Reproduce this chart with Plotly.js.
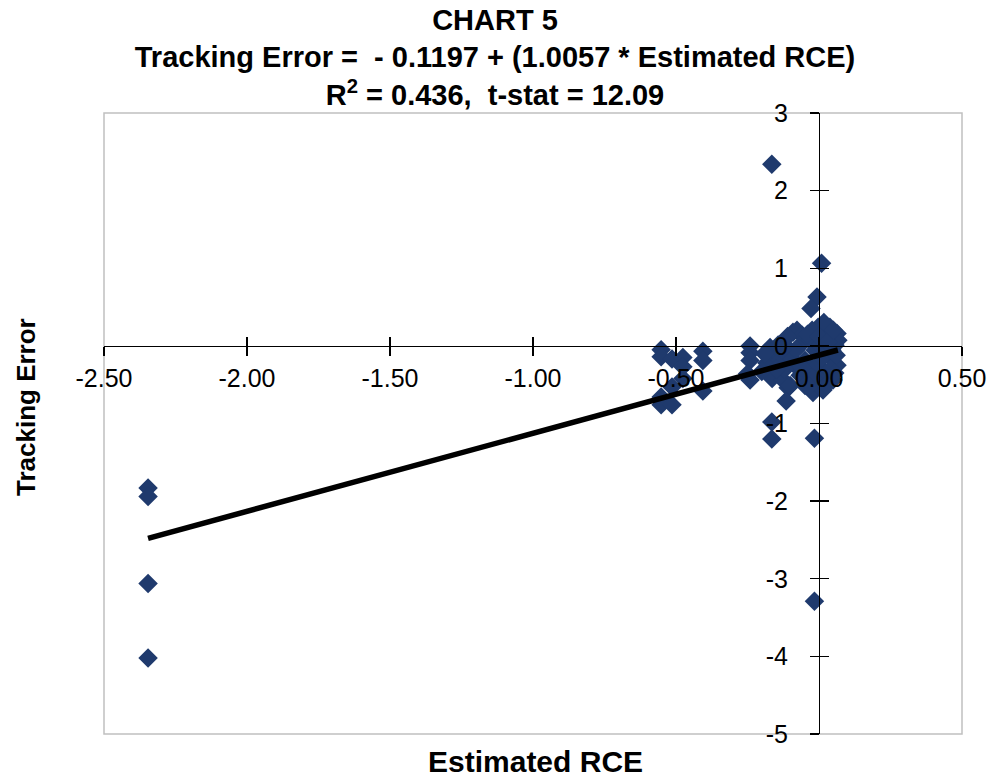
<!DOCTYPE html>
<html>
<head>
<meta charset="utf-8">
<script src="https://cdn.plot.ly/plotly-3.0.1.min.js"></script>
<style>html,body{margin:0;padding:0;background:#fff;}#chart{width:990px;height:781px;}</style>
</head>
<body>
<div id="chart"></div>
<script>
// Estimated RCE (x) and Tracking Error (y)
const estRCE = [
  -2.346, -2.346, -2.346, -2.346,
  -0.552, -0.552, -0.552, -0.552, -0.514, -0.514, -0.514, -0.476, -0.476, -0.476,
  -0.406, -0.406, -0.406,
  -0.241, -0.241, -0.241, -0.250, -0.241,
  -0.171, -0.161, -0.182, -0.164, -0.126, -0.108, -0.115, -0.091, -0.077, -0.059,
  -0.003, 0.038, 0.063, -0.021, 0.014, 0.049, 0.063, -0.101, -0.143,
  -0.136, -0.101, -0.066, -0.049, -0.031, -0.014, 0.003, 0.021, 0.031, 0.056,
  -0.038, -0.003, 0.021, -0.066, -0.084, -0.024, 0.017, 0.045, 0.066, 0.003, -0.049,
  -0.120, -0.100, -0.080, -0.060, -0.040, -0.020, 0.000, 0.010, 0.030, 0.040,
  0.050, 0.060, -0.130, -0.150, -0.110, 0.025, -0.035, 0.055, -0.190, -0.200,
  -0.016, -0.016, -0.165, -0.165,
  -0.165, 0.009, -0.007, -0.028
];
const trackingError = [
  -1.83, -1.94, -3.06, -4.02,
  -0.05, -0.14, -0.66, -0.76, -0.17, -0.53, -0.76, -0.15, -0.27, -0.42,
  -0.07, -0.19, -0.58,
  0.00, -0.09, -0.19, -0.36, -0.44,
  -0.02, -0.146, -0.22, -0.42, -0.44, -0.54, -0.71, 0.175, 0.20, 0.136,
  0.24, 0.24, 0.16, -0.60, -0.57, -0.44, -0.25, -0.51, 0.01,
  -0.185, -0.056, 0.008, -0.185, 0.072, -0.056, 0.008, 0.136, -0.12, 0.008,
  -0.34, -0.25, -0.34, -0.38, -0.25, 0.20, 0.30, -0.056, 0.072, -0.44, -0.51,
  -0.30, -0.15, -0.05, -0.28, 0.15, -0.42, 0.12, -0.15, 0.05, -0.30,
  0.20, -0.12, -0.05, -0.30, 0.12, -0.50, -0.52, -0.35, -0.10, -0.33,
  -1.19, -3.29, -0.98, -1.20,
  2.34, 1.064, 0.63, 0.48
];
// Regression from the chart title
const intercept = -0.1197;
const slope = 1.0057;
const xTicks = [-2.5, -2.0, -1.5, -1.0, -0.5, 0.0, 0.5];
const yTicks = [-5, -4, -3, -2, -1, 0, 1, 2, 3];
const xTickText = xTicks.map(v => v.toFixed(2));
const yTickText = yTicks.map(v => String(v));

const xMin = Math.min(...estRCE), xMax = Math.max(...estRCE);
const fitX = [xMin, xMax];
const fitY = fitX.map(v => intercept + slope * v);

const FONT = 'Liberation Sans, Arial, sans-serif';
const navy = '#1f3a6d';

const traces = [
  {type: 'scatter', mode: 'markers', x: estRCE, y: trackingError,
   marker: {symbol: 'diamond', size: 15, color: navy, line: {width: 0}},
   hoverinfo: 'skip', showlegend: false},
  {type: 'scatter', mode: 'lines', x: fitX, y: fitY, xaxis: 'x2', yaxis: 'y2',
   line: {color: '#000', width: 5.5}, hoverinfo: 'skip', showlegend: false}
];

const xPos = (0 - (-5)) / 8;      // where y = 0 sits in the plot height
const yPos = (0 - (-2.5)) / 3;    // where x = 0 sits in the plot width

const tickFont = {family: FONT, size: 25, color: '#000'};
const layout = {
  width: 990, height: 781,
  margin: {l: 104, r: 28, t: 113, b: 47},
  paper_bgcolor: '#fff', plot_bgcolor: '#fff',
  showlegend: false,
  title: {
    text: '<b>CHART 5</b><br><b>Tracking Error =\u00a0\u00a0- 0.1197 + (1.0057 * Estimated RCE)</b><br><b>R<sup>2</sup> = 0.436,\u00a0\u00a0t-stat = 12.09</b>',
    font: {family: FONT, size: 29, color: '#000'},
    x: 0.5, xref: 'container', xanchor: 'center',
    y: 0.962, yref: 'container', yanchor: 'top'
  },
  xaxis: {
    range: [-2.5, 0.5], tickvals: xTicks, ticktext: xTickText,
    anchor: 'free', position: xPos,
    showline: true, linecolor: '#000', linewidth: 1.3,
    ticks: 'outside', ticklen: 9, tickwidth: 1.3, tickcolor: '#000',
    showgrid: false, zeroline: false, tickfont: tickFont, ticklabelstandoff: 1
  },
  yaxis: {
    range: [-5, 3], tickvals: yTicks, ticktext: yTickText,
    anchor: 'free', position: yPos,
    showline: true, linecolor: '#000', linewidth: 1.3,
    ticks: 'outside', ticklen: 9, tickwidth: 1.3, tickcolor: '#000',
    showgrid: false, zeroline: false, tickfont: tickFont, ticklabelstandoff: 17
  },
  xaxis2: {
    overlaying: 'x', matches: 'x', anchor: 'free', position: xPos,
    tickvals: xTicks, ticks: 'inside', ticklen: 9, tickwidth: 1.3, tickcolor: '#000',
    showticklabels: false, showline: false, showgrid: false, zeroline: false
  },
  yaxis2: {
    overlaying: 'y', matches: 'y', anchor: 'free', position: yPos,
    tickvals: yTicks, ticks: 'inside', ticklen: 9, tickwidth: 1.3, tickcolor: '#000',
    showticklabels: false, showline: false, showgrid: false, zeroline: false
  },
  shapes: [{type: 'rect', xref: 'paper', yref: 'paper', x0: 0, x1: 1, y0: 0, y1: 1,
            line: {color: '#c0c0c0', width: 1.5}, layer: 'below'}],
  annotations: [
    {text: '<b>Tracking Error</b>', textangle: -90, xref: 'paper', yref: 'paper',
     x: (26 - 104) / 858, y: 1 - (407 - 113) / 621, xanchor: 'center', yanchor: 'middle',
     showarrow: false, font: {family: FONT, size: 26, color: '#000'}},
    {text: '<b>Estimated RCE</b>', xref: 'paper', yref: 'paper',
     x: (535 - 104) / 858, y: -(761 - 734) / 621, xanchor: 'center', yanchor: 'middle',
     borderpad: 0, showarrow: false, font: {family: FONT, size: 30, color: '#000'}}
  ]
};

Plotly.newPlot('chart', traces, layout, {displayModeBar: false, staticPlot: true});
</script>
</body>
</html>
